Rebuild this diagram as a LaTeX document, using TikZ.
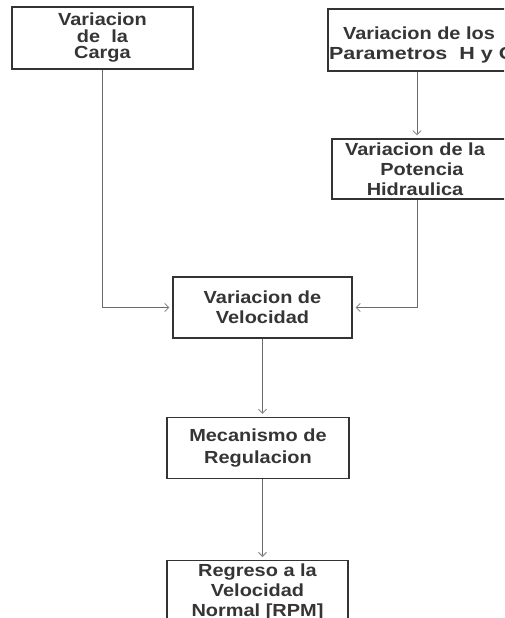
\documentclass[tikz,border=0pt]{standalone}
\usepackage{fontspec}
\setmainfont{Liberation Sans}[FakeStretch=1.14]
\usetikzlibrary{arrows.meta}
\definecolor{boxc}{HTML}{333333}
\definecolor{linec}{HTML}{6A6A6A}
\definecolor{tipc}{HTML}{8A8A8A}
\definecolor{txtc}{HTML}{353535}
\newcommand\shl{\hspace*{14pt}}
\begin{document}
\begin{tikzpicture}[x=1pt,y=-1pt,
  box/.style={draw=boxc, line width=1.4pt, fill=white, align=center, inner sep=0pt,
    text=txtc, font=\fontsize{17.5}{20}\selectfont\bfseries},
  link/.style={draw=linec, line width=1pt},
  arr/.style={link, -{Straight Barb[length=4pt,width=8pt,line width=0.9pt,color=tipc]}, shorten >=3pt}]
\useasboundingbox (0,0) rectangle (504,618);
\clip (0,0) rectangle (504,618);
\fill[white] (0,0) rectangle (504,618);
% boxes
\node[box, minimum width=181, minimum height=62, font=\fontsize{17.5}{16.5}\selectfont\bfseries] (carga) at (102.5,38) {Variacion\\de\ \ la\\Carga};
\node[box, minimum width=182, minimum height=62] (param) at (419,40) {\rule{0pt}{22pt}Variacion de los\\\makebox[180pt][l]{\addfontfeature{FakeStretch=1.23}Parametros\ \ H y Q}};
\node[box, minimum width=180, minimum height=60] (pot) at (422,169) {Variacion de la\shl\\Potencia\shl\\Hidraulica\shl};
\node[box, minimum width=179, minimum height=61] (vel) at (262.5,307.5) {Variacion de\\Velocidad};
\node[box, minimum width=182, minimum height=61, font=\fontsize{17.5}{22}\selectfont\bfseries] (mec) at (258,448) {Mecanismo de\\Regulacion};
\node[box, anchor=north, minimum width=181, inner ysep=3.5pt] (reg) at (257.5,560) {Regreso a la\\Velocidad\\Normal [RPM]};
% connectors
\coordinate (rx) at (417,0);
\draw[arr] (carga.south) |- (vel.west);
\draw[arr] (param.south -| rx) -- (pot.north -| rx);
\draw[arr] (pot.south -| rx) |- (vel.east);
\draw[arr] (vel.south) -- (mec.north -| vel.south);
\draw[arr] (mec.south -| vel.south) -- (reg.north -| vel.south);
\end{tikzpicture}
\end{document}
